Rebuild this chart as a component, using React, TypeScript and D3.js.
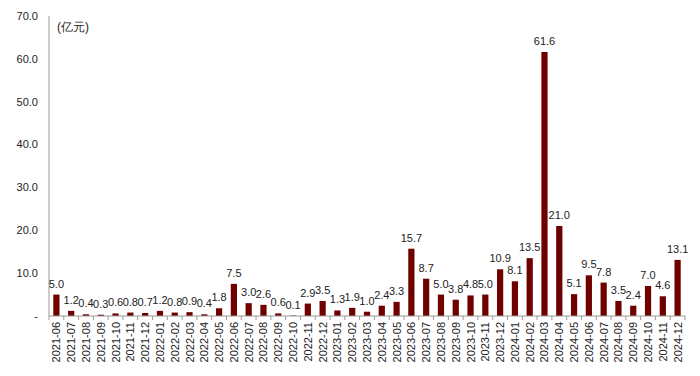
import React from "react";
import * as d3 from "d3";

const categories = [
  "2021-06","2021-07","2021-08","2021-09","2021-10","2021-11","2021-12",
  "2022-01","2022-02","2022-03","2022-04","2022-05","2022-06","2022-07","2022-08","2022-09","2022-10","2022-11","2022-12",
  "2023-01","2023-02","2023-03","2023-04","2023-05","2023-06","2023-07","2023-08","2023-09","2023-10","2023-11","2023-12",
  "2024-01","2024-02","2024-03","2024-04","2024-05","2024-06","2024-07","2024-08","2024-09","2024-10","2024-11","2024-12",
];
const values = [
  5.0, 1.2, 0.4, 0.3, 0.6, 0.8, 0.7,
  1.2, 0.8, 0.9, 0.4, 1.8, 7.5, 3.0, 2.6, 0.6, 0.1, 2.9, 3.5,
  1.3, 1.9, 1.0, 2.4, 3.3, 15.7, 8.7, 5.0, 3.8, 4.8, 5.0, 10.9,
  8.1, 13.5, 61.6, 21.0, 5.1, 9.5, 7.8, 3.5, 2.4, 7.0, 4.6, 13.1,
];
const yTicks = [0, 10, 20, 30, 40, 50, 60, 70];
const unitLabel = "(亿元)";

const W = 700, H = 376;
const left = 49, right = 685, top = 16, bottom = 316;

export default function App() {
  const x = d3.scaleBand<string>().domain(categories).range([left, right]).paddingInner(0.58).paddingOuter(0.29);
  const y = d3.scaleLinear().domain([0, 70]).range([bottom, top]);
  const step = x.step();
  const font = "'Liberation Sans', Arial, sans-serif";
  return (
    <svg width={W} height={H} style={{ position: "absolute", left: 0, top: 0, background: "#fff" }} fontFamily={font}>
      {/* y axis */}
      <line x1={left} x2={left} y1={top} y2={bottom} stroke="#999" strokeWidth={1} />
      {yTicks.map((t) => (
        <text key={t} x={38} y={y(t)} dy="0.35em" textAnchor="end" fontSize={11} fill="#222">
          {t === 0 ? "-" : t.toFixed(1)}
        </text>
      ))}
      <text x={57} y={31} fontSize={12} fill="#222">{unitLabel}</text>
      {/* bars */}
      {categories.map((c, i) => (
        <rect key={c} x={x(c)} y={y(values[i])} width={x.bandwidth()} height={bottom - y(values[i])} fill="#6E0000" />
      ))}
      {categories.map((c, i) => (
        <text key={"l" + c} x={(x(c) as number) + x.bandwidth() / 2} y={y(values[i]) - 7} textAnchor="middle" fontSize={11} fill="#222">
          {values[i].toFixed(1)}
        </text>
      ))}
      {/* x axis */}
      <line x1={left} x2={right} y1={bottom} y2={bottom} stroke="#999" strokeWidth={1} />
      {d3.range(categories.length + 1).map((i) => (
        <line key={"t" + i} x1={left + i * step} x2={left + i * step} y1={bottom} y2={bottom + 4} stroke="#999" />
      ))}
      {categories.map((c) => {
        const cx = (x(c) as number) + x.bandwidth() / 2;
        return (
          <text key={"x" + c} transform={`translate(${cx + 4},${bottom + 6}) rotate(-90)`} textAnchor="end" fontSize={11} fill="#222">
            {c}
          </text>
        );
      })}
    </svg>
  );
}
